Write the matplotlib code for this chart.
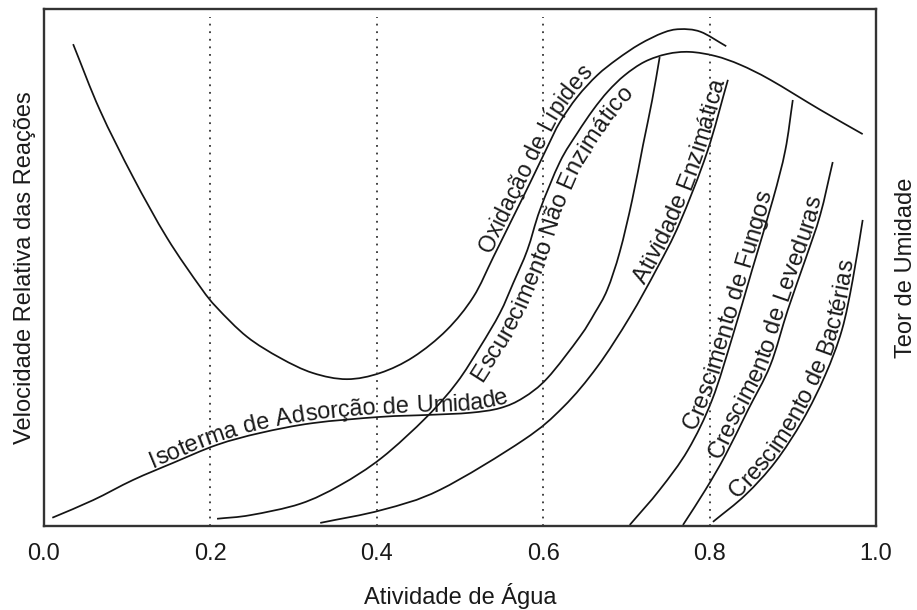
import numpy as np
import matplotlib
matplotlib.use("Agg")
import matplotlib.pyplot as plt
from matplotlib.font_manager import FontProperties
from matplotlib.path import Path
from matplotlib.patches import PathPatch

# valores: x = atividade de agua, y = velocidade relativa (0..1)
oxid_x = [0.035, 0.067, 0.107, 0.148, 0.188, 0.208, 0.244, 0.284, 0.323, 0.364,
          0.404, 0.444, 0.484, 0.516, 0.540, 0.564, 0.584, 0.605, 0.620, 0.641,
          0.665, 0.689, 0.716, 0.744, 0.764, 0.789, 0.820]
oxid_y = [0.932, 0.805, 0.675, 0.557, 0.462, 0.422, 0.366, 0.325, 0.296, 0.284,
          0.296, 0.327, 0.379, 0.443, 0.520, 0.598, 0.663, 0.733, 0.781, 0.830,
          0.872, 0.903, 0.932, 0.954, 0.961, 0.956, 0.928]

escur_x = [0.208, 0.248, 0.308, 0.356, 0.406, 0.460, 0.496, 0.524, 0.548, 0.564,
           0.581, 0.596, 0.620, 0.641, 0.660, 0.678, 0.698, 0.722, 0.749, 0.776,
           0.807, 0.837, 0.873, 0.933, 0.984]
escur_y = [0.014, 0.021, 0.043, 0.079, 0.132, 0.211, 0.277, 0.346, 0.412, 0.470,
           0.534, 0.611, 0.704, 0.760, 0.805, 0.841, 0.872, 0.898, 0.913, 0.917,
           0.909, 0.892, 0.863, 0.805, 0.758]

isot_x = [0.010, 0.059, 0.107, 0.155, 0.208, 0.260, 0.323, 0.404, 0.464, 0.512,
          0.548, 0.576, 0.605, 0.644, 0.662, 0.677, 0.692, 0.707, 0.720, 0.731, 0.740]
isot_y = [0.016, 0.050, 0.089, 0.122, 0.157, 0.180, 0.199, 0.211, 0.215, 0.219,
          0.228, 0.248, 0.286, 0.366, 0.412, 0.457, 0.530, 0.631, 0.737, 0.824, 0.907]

enzim_x = [0.332, 0.406, 0.476, 0.576, 0.624, 0.665, 0.704, 0.737, 0.764, 0.797, 0.822]
enzim_y = [0.006, 0.031, 0.070, 0.166, 0.230, 0.308, 0.404, 0.499, 0.586, 0.723, 0.863]

fungos_x = [0.704, 0.740, 0.774, 0.803, 0.828, 0.851, 0.876, 0.891, 0.900]
fungos_y = [0.002, 0.070, 0.147, 0.244, 0.369, 0.495, 0.631, 0.727, 0.824]

lev_x = [0.768, 0.795, 0.819, 0.846, 0.873, 0.894, 0.915, 0.933, 0.948]
lev_y = [0.002, 0.070, 0.137, 0.224, 0.311, 0.418, 0.515, 0.602, 0.704]

bact_x = [0.804, 0.843, 0.879, 0.912, 0.939, 0.959, 0.972, 0.984]
bact_y = [0.008, 0.060, 0.124, 0.205, 0.292, 0.379, 0.476, 0.592]

grid_x = [0.2, 0.4, 0.6, 0.8]
tick_x = [0.0, 0.2, 0.4, 0.6, 0.8, 1.0]
tick_labels = ['0.0', '0.2', '0.4', '0.6', '0.8', '1.0']

LINE = '#141414'
TXT = '#1a1a1a'
FS = 17

plt.rcParams['font.family'] = ['Liberation Sans', 'DejaVu Sans']


def smooth_path(xs, ys):
    """curva suave (Catmull-Rom -> Bezier cubica) passando pelos pontos lidos"""
    p = np.column_stack([xs, ys])
    q = np.vstack([2 * p[0] - p[1], p, 2 * p[-1] - p[-2]])
    verts = [p[0]]
    codes = [Path.MOVETO]
    for i in range(len(p) - 1):
        verts += [q[i + 1] + (q[i + 2] - q[i]) / 6,
                  q[i + 2] - (q[i + 3] - q[i + 1]) / 6,
                  p[i + 1]]
        codes += [Path.CURVE4] * 3
    return Path(np.array(verts), codes)
# end def smooth_path


def dense_curve(ax, path):
    # pontos da Bezier em pixels, so para posicionar os rotulos
    v = ax.transData.transform(path.vertices)
    t = np.linspace(0, 1, 25)[:, None]
    out = [v[:1]]
    for i in range(0, len(v) - 1, 3):
        p0, c1, c2, p3 = v[i], v[i + 1], v[i + 2], v[i + 3]
        seg = (1 - t) ** 3 * p0 + 3 * (1 - t) ** 2 * t * c1 + 3 * (1 - t) * t ** 2 * c2 + t ** 3 * p3
        out.append(seg[1:])
    return np.vstack(out)
# end def dense_curve


def curve_label(ax, path, text, x_start, offset=3.0, size=FS):
    """escreve o texto letra a letra ao longo da curva (offset em pixels)"""
    renderer = ax.figure.canvas.get_renderer()
    prop = FontProperties(family=plt.rcParams['font.family'], size=size)
    pts = dense_curve(ax, path)
    d = np.gradient(pts, axis=0)
    nrm = np.column_stack([-d[:, 1], d[:, 0]]) / np.hypot(d[:, 0], d[:, 1])[:, None]
    base = pts + offset * nrm
    s = np.concatenate([[0.0], np.cumsum(np.hypot(*np.diff(base, axis=0).T))])

    def at(si):
        return np.array([np.interp(si, s, base[:, 0]), np.interp(si, s, base[:, 1])])

    x0 = ax.transData.transform((x_start, 0))[0]
    pos = s[np.argmin(np.abs(pts[:, 0] - x0))]
    base_w = renderer.get_text_width_height_descent('nn', prop, ismath=False)[0]
    inv = ax.transData.inverted()
    for ch in text:
        w = renderer.get_text_width_height_descent('n' + ch + 'n', prop, ismath=False)[0] - base_w
        mid = pos + w / 2
        half = max(w / 2, 6)
        dd = at(mid + half) - at(mid - half)
        ang = np.degrees(np.arctan2(dd[1], dd[0]))
        ax.text(*inv.transform(at(mid)), ch, rotation=ang, rotation_mode='anchor',
                ha='center', va='baseline', fontsize=size, color=TXT)
        pos += w
# end def curve_label


fig = plt.figure(figsize=(9.17, 6.10), dpi=100)
ax = fig.add_axes([44 / 917, 84 / 610, 832 / 917, 517 / 610])
ax.set_xlim(0, 1)
ax.set_ylim(0, 1)

for xv in grid_x:
    ax.axvline(xv, ymax=0.985, color='#333333', lw=1.3, ls=(0, (1, 3.2)))

paths = {}
for key, xs, ys in [('oxid', oxid_x, oxid_y), ('escur', escur_x, escur_y),
                    ('isot', isot_x, isot_y), ('enzim', enzim_x, enzim_y),
                    ('fungos', fungos_x, fungos_y), ('lev', lev_x, lev_y),
                    ('bact', bact_x, bact_y)]:
    paths[key] = smooth_path(xs, ys)
    ax.add_patch(PathPatch(paths[key], fill=False, edgecolor=LINE, lw=1.25))

curve_label(ax, paths['isot'], 'Isoterma de Adsorção de Umidade', 0.133)
curve_label(ax, paths['oxid'], 'Oxidação de Lípides', 0.541, offset=4, size=16.5)
curve_label(ax, paths['escur'], 'Escurecimento Não Enzimático', 0.506, offset=-21)
curve_label(ax, paths['enzim'], 'Atividade Enzimática', 0.725)
curve_label(ax, paths['fungos'], 'Crescimento de Fungos', 0.785)
curve_label(ax, paths['lev'], 'Crescimento de Leveduras', 0.815)
curve_label(ax, paths['bact'], 'Crescimento de Bactérias', 0.835)

ax.set_xticks(tick_x)
ax.set_xticklabels(tick_labels)
ax.set_yticks([])
ax.tick_params(axis='x', length=0, pad=12, labelsize=FS, colors=TXT)
for sp in ax.spines.values():
    sp.set_color('#333333')
    sp.set_linewidth(1.7)

ax.set_xlabel('Atividade de Água', fontsize=FS, labelpad=13, color=TXT)
ax.set_ylabel('Velocidade Relativa das Reações', fontsize=FS, labelpad=6, color=TXT)
ax.text(1.036, 0.5, 'Teor de Umidade', transform=ax.transAxes, rotation=90,
        ha='center', va='center', fontsize=FS, color=TXT)

fig.savefig('out.png', dpi=100)
